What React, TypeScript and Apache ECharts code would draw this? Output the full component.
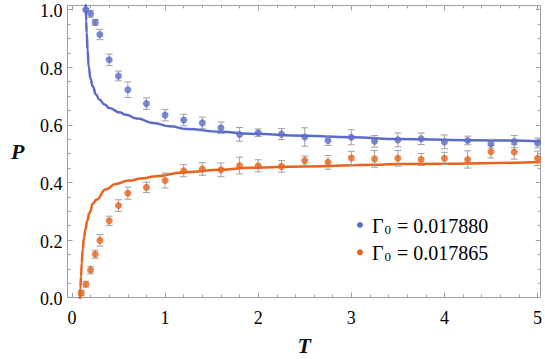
import React, { useEffect, useRef } from "react";
import * as echarts from "echarts";

// ---- data ----
const blueT = [0.15, 0.2, 0.25, 0.3, 0.4, 0.5, 0.6, 0.8, 1.0, 1.2, 1.4, 1.6, 1.8, 2.0, 2.25, 2.5, 2.75, 3.0, 3.25, 3.5, 3.75, 4.0, 4.25, 4.5, 4.75, 5.0];
const blueP = [1.0, 0.986, 0.956, 0.914, 0.826, 0.770, 0.722, 0.674, 0.634, 0.617, 0.607, 0.590, 0.567, 0.573, 0.568, 0.558, 0.546, 0.557, 0.543, 0.548, 0.552, 0.541, 0.546, 0.535, 0.542, 0.537];
const blueErr = [0.005, 0.012, 0.01, 0.018, 0.02, 0.017, 0.027, 0.02, 0.02, 0.02, 0.02, 0.02, 0.024, 0.013, 0.019, 0.032, 0.017, 0.026, 0.02, 0.024, 0.02, 0.024, 0.015, 0.015, 0.021, 0.017];

const orangeT = [0.1, 0.15, 0.2, 0.25, 0.3, 0.4, 0.5, 0.6, 0.8, 1.0, 1.2, 1.4, 1.6, 1.8, 2.0, 2.25, 2.5, 2.75, 3.0, 3.25, 3.5, 3.75, 4.0, 4.25, 4.5, 4.75, 5.0];
const orangeP = [0.016, 0.047, 0.096, 0.151, 0.199, 0.267, 0.320, 0.363, 0.383, 0.407, 0.441, 0.447, 0.444, 0.459, 0.458, 0.456, 0.476, 0.470, 0.485, 0.482, 0.484, 0.480, 0.484, 0.480, 0.507, 0.506, 0.484];
const orangeErr = [0.009, 0.01, 0.013, 0.014, 0.02, 0.016, 0.02, 0.021, 0.018, 0.026, 0.021, 0.022, 0.024, 0.029, 0.021, 0.02, 0.016, 0.024, 0.023, 0.029, 0.027, 0.021, 0.021, 0.03, 0.022, 0.025, 0.025];

// model curves
const blueCurveT = [0.147, 0.152, 0.158, 0.168, 0.179, 0.2, 0.222, 0.26, 0.293, 0.35, 0.4, 0.516, 0.58, 0.7, 0.873, 1.05, 1.23, 1.59, 1.91, 2.5, 3.0, 3.52, 4.25, 5.03];
const blueCurveP = [1.03, 0.96, 0.92, 0.86, 0.803, 0.76, 0.734, 0.705, 0.688, 0.671, 0.659, 0.643, 0.635, 0.622, 0.607, 0.595, 0.586, 0.576, 0.569, 0.562, 0.557, 0.551, 0.547, 0.543];
const orangeCurveT = [0.085, 0.09, 0.097, 0.105, 0.115, 0.13, 0.143, 0.165, 0.186, 0.229, 0.26, 0.365, 0.47, 0.6, 0.77, 0.873, 1.23, 1.59, 1.91, 2.5, 3.3, 3.52, 5.03];
const orangeCurveP = [-0.01, 0.035, 0.074, 0.12, 0.167, 0.21, 0.236, 0.268, 0.294, 0.329, 0.34, 0.377, 0.395, 0.406, 0.415, 0.421, 0.436, 0.444, 0.451, 0.456, 0.462, 0.464, 0.471];

const xMajor = [0, 1, 2, 3, 4, 5];
const xMinor = [0.2, 0.4, 0.6, 0.8, 1.2, 1.4, 1.6, 1.8, 2.2, 2.4, 2.6, 2.8, 3.2, 3.4, 3.6, 3.8, 4.2, 4.4, 4.6, 4.8];
const yMajor = [0, 0.2, 0.4, 0.6, 0.8, 1.0];
const yMinor = [0.05, 0.1, 0.15, 0.25, 0.3, 0.35, 0.45, 0.5, 0.55, 0.65, 0.7, 0.75, 0.85, 0.9, 0.95];
const xTickLabels = ["0", "1", "2", "3", "4", "5"];
const yTickLabels = ["0.0", "0.2", "0.4", "0.6", "0.8", "1.0"];

const legendLabels = ["0.017880", "0.017865"];

const BLUE = "#5b6bc8";
const ORANGE = "#e8631c";
const FRAME = "#a0a0a0";
const FONT = "Liberation Serif";

const X_MIN = -0.048;
const X_MAX = 5.034;
const Y_MIN = 0;
const Y_MAX = 1.015;

function zip(a: number[], b: number[], c?: number[]) {
  return a.map((v, i) => (c ? [v, b[i], c[i]] : [v, b[i]]));
}

function errRender(params: any, api: any) {
  const x = api.value(0);
  const y = api.value(1);
  const e = api.value(2);
  const top = api.coord([x, y + e]);
  const bot = api.coord([x, y - e]);
  const cap = 3.5;
  const style = { stroke: FRAME, lineWidth: 1 };
  return {
    type: "group",
    children: [
      { type: "line", shape: { x1: top[0], y1: top[1], x2: bot[0], y2: bot[1] }, style },
      { type: "line", shape: { x1: top[0] - cap, y1: top[1], x2: top[0] + cap, y2: top[1] }, style },
      { type: "line", shape: { x1: bot[0] - cap, y1: bot[1], x2: bot[0] + cap, y2: bot[1] }, style },
    ],
  };
}

const tickRich = {
  n: { fontFamily: FONT, fontSize: 18, color: "#222", lineHeight: 20, verticalAlign: "bottom" },
};

function xAxisDef(position: string, ticks: number[], len: number, showLine: boolean, extra: any = {}) {
  return {
    type: "value",
    position,
    min: X_MIN,
    max: X_MAX,
    splitLine: { show: false },
    axisLine: { show: showLine, onZero: false, lineStyle: { color: FRAME, width: 1 } },
    axisTick: { show: true, inside: true, length: len, customValues: ticks, lineStyle: { color: FRAME, width: 1 } },
    axisLabel: { show: false },
    ...extra,
  };
}

function yAxisDef(position: string, ticks: number[], len: number, showLine: boolean, extra: any = {}) {
  return {
    type: "value",
    position,
    min: Y_MIN,
    max: Y_MAX,
    splitLine: { show: false },
    axisLine: { show: showLine, onZero: false, lineStyle: { color: FRAME, width: 1 } },
    axisTick: { show: true, inside: true, length: len, customValues: ticks, lineStyle: { color: FRAME, width: 1 } },
    axisLabel: { show: false },
    ...extra,
  };
}

function legendText(label: string) {
  return `{g|Γ}{s|0}{t| = ${label}}`;
}

const richStyles = {
  g: { fontFamily: FONT, fontSize: 20, color: "#222", lineHeight: 22, verticalAlign: "bottom" },
  s: { fontFamily: FONT, fontSize: 13, color: "#222", lineHeight: 10, verticalAlign: "bottom", padding: [0, 1, 0, 1] },
  t: { fontFamily: FONT, fontSize: 20, color: "#222", lineHeight: 22, verticalAlign: "bottom" },
};

export default function App() {
  const ref = useRef<HTMLDivElement>(null);
  useEffect(() => {
    if (!ref.current) return;
    const chart = echarts.init(ref.current, undefined, { renderer: "svg" });
    chart.setOption({
      animation: false,
      backgroundColor: "#ffffff",
      textStyle: { fontFamily: FONT },
      grid: {
        left: 67.5,
        right: 4.3,
        top: 5.4,
        bottom: 61.3,
        containLabel: false,
        outerBoundsMode: "none",
      },
      xAxis: [
        xAxisDef("bottom", xMajor, 5, true, {
          name: "T",
          nameLocation: "middle",
          nameGap: 37,
          nameTextStyle: { fontFamily: FONT, fontSize: 22, fontWeight: "bold", fontStyle: "italic", color: "#111" },
        }),
        xAxisDef("bottom", xMinor, 3, false),
        xAxisDef("top", xMajor, 5, true),
        xAxisDef("top", xMinor, 3, false),
      ],
      yAxis: [
        yAxisDef("left", yMajor, 5, true, {
          name: "P",
          nameLocation: "middle",
          nameGap: 43,
          nameRotate: 0,
          nameTextStyle: { fontFamily: FONT, fontSize: 22, fontWeight: "bold", fontStyle: "italic", color: "#111" },
        }),
        yAxisDef("left", yMinor, 3, false),
        yAxisDef("right", yMajor, 5, true),
        yAxisDef("right", yMinor, 3, false),
      ],
      series: [
        {
          type: "line",
          data: zip(blueCurveT, blueCurveP),
          showSymbol: false,
          smooth: true,
          smoothMonotone: "x",
          clip: true,
          lineStyle: { color: BLUE, width: 2.5 },
          z: 2,
        },
        {
          type: "line",
          data: zip(orangeCurveT, orangeCurveP),
          showSymbol: false,
          smooth: true,
          smoothMonotone: "x",
          clip: true,
          lineStyle: { color: ORANGE, width: 2.5 },
          z: 2,
        },
        { type: "custom", renderItem: errRender, data: zip(blueT, blueP, blueErr), z: 3, clip: true },
        { type: "custom", renderItem: errRender, data: zip(orangeT, orangeP, orangeErr), z: 3, clip: true },
        {
          type: "scatter",
          data: zip(blueT, blueP),
          symbolSize: 7,
          itemStyle: { color: BLUE },
          z: 4,
        },
        {
          type: "scatter",
          data: zip(orangeT, orangeP),
          symbolSize: 7,
          itemStyle: { color: ORANGE },
          z: 4,
        },
      ],
      graphic: [
        { type: "circle", shape: { cx: 360, cy: 225, r: 3 }, style: { fill: BLUE } },
        { type: "circle", shape: { cx: 360, cy: 252.3, r: 3 }, style: { fill: ORANGE } },
        {
          type: "text",
          x: 372,
          y: 225,
          style: { text: legendText(legendLabels[0]), rich: richStyles, verticalAlign: "middle", align: "left" },
        },
        {
          type: "text",
          x: 372,
          y: 252.3,
          style: { text: legendText(legendLabels[1]), rich: richStyles, verticalAlign: "middle", align: "left" },
        },
      ],
    });

    // tick labels placed through the chart's own coordinate conversion
    const tickGraphics: any[] = [];
    xMajor.forEach((v, i) => {
      const p = chart.convertToPixel({ gridIndex: 0 }, [v, Y_MIN]) as number[];
      tickGraphics.push({
        type: "text",
        id: "xt" + i,
        x: p[0],
        y: p[1] + 19,
        style: { text: `{n|${xTickLabels[i]}}`, rich: tickRich, align: "center", verticalAlign: "middle" },
      });
    });
    yMajor.forEach((v, i) => {
      const p = chart.convertToPixel({ gridIndex: 0 }, [X_MIN, v]) as number[];
      tickGraphics.push({
        type: "text",
        id: "yt" + i,
        x: p[0] - 5,
        y: p[1] + 0.5,
        style: { text: `{n|${yTickLabels[i]}}`, rich: tickRich, align: "right", verticalAlign: "middle" },
      });
    });
    chart.setOption({ graphic: tickGraphics });

    return () => chart.dispose();
  }, []);
  return (
    <div
      ref={ref}
      style={{ position: "fixed", left: 0, top: 0, width: 545, height: 359 }}
    />
  );
}
